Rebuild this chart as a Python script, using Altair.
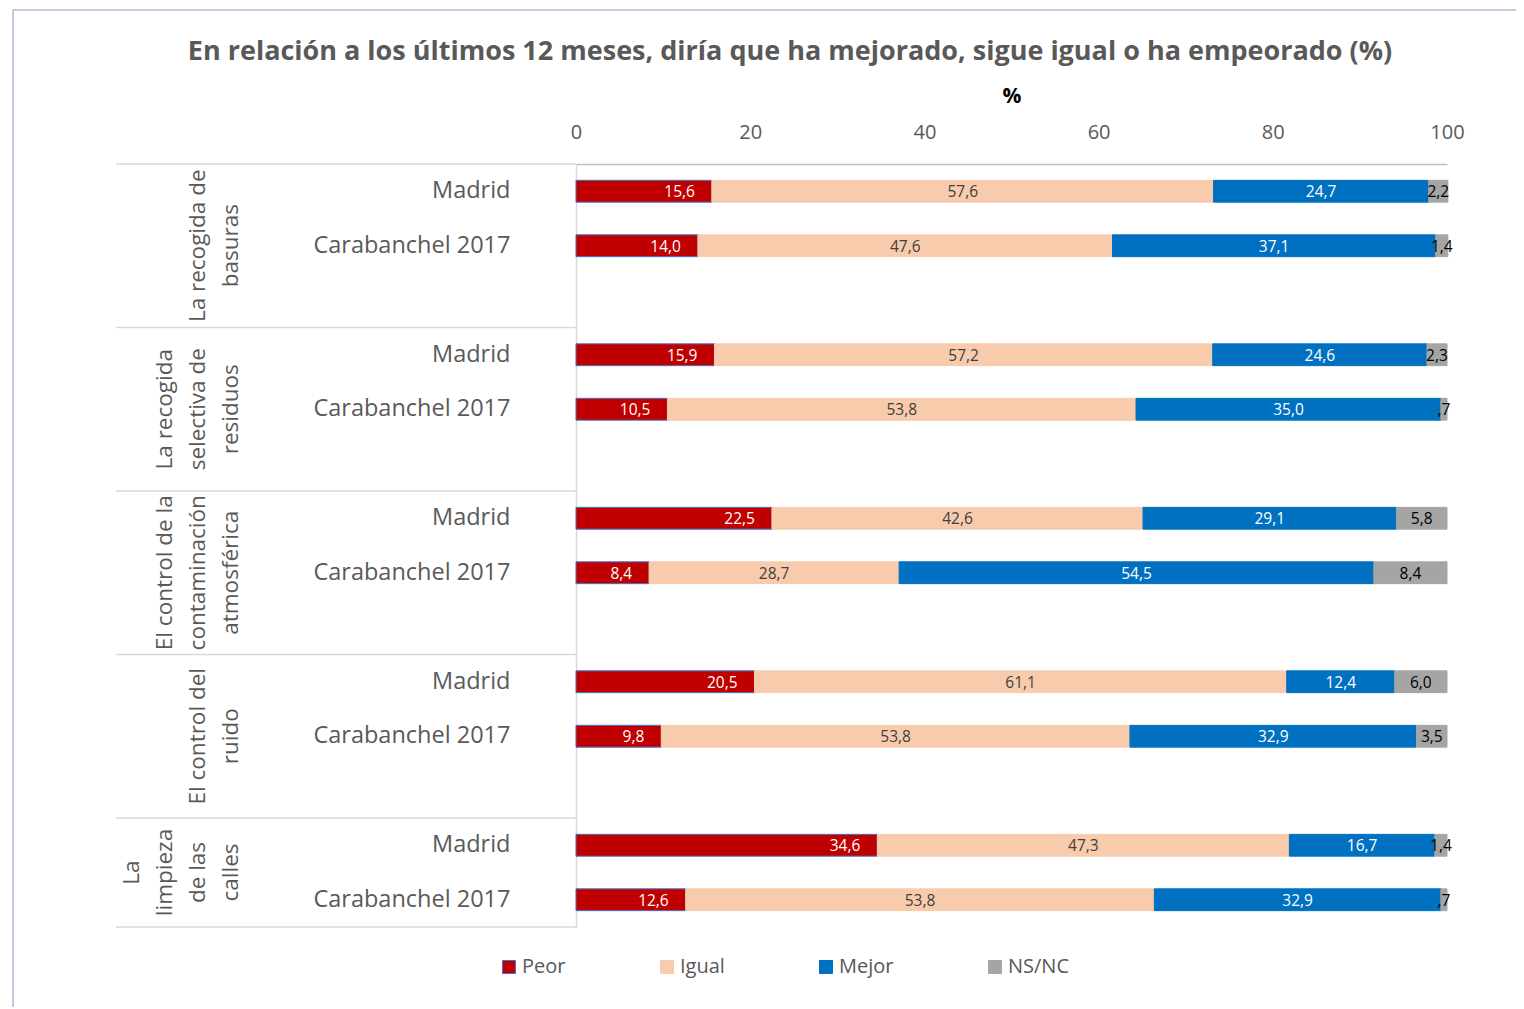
import altair as alt
import pandas as pd

# ---------------- data ----------------
title_text = "En relación a los últimos 12 meses, diría que ha mejorado, sigue igual o ha empeorado  (%)"
group_lines = [
    ["La recogida de", "basuras"],
    ["La recogida", "selectiva de", "residuos"],
    ["El control de la", "contaminación", "atmosférica"],
    ["El control del", "ruido"],
    ["La", "limpieza", "de las", "calles"],
]
areas = ["Madrid", "Carabanchel 2017"]
answers = ["Peor", "Igual", "Mejor", "NS/NC"]
colors = ["#C00000", "#F8CBAD", "#0070C0", "#A5A5A5"]
strokes = ["#4472C4", "#F8CBAD", "#0070C0", "#A5A5A5"]
text_colors = ["white", "#404040", "white", "black"]

# rows: (group1 Madrid, group1 Carabanchel, group2 Madrid, ...)
peor = [15.6, 14.0, 15.9, 10.5, 22.5, 8.4, 20.5, 9.8, 34.6, 12.6]
igual = [57.6, 47.6, 57.2, 53.8, 42.6, 28.7, 61.1, 53.8, 47.3, 53.8]
mejor = [24.7, 37.1, 24.6, 35.0, 29.1, 54.5, 12.4, 32.9, 16.7, 32.9]
nsnc = [2.2, 1.4, 2.3, 0.7, 5.8, 8.4, 6.0, 3.5, 1.4, 0.7]
x_ticks = [0, 20, 40, 60, 80, 100]

# ---------------- tables ----------------
n_groups = len(group_lines)
domain = []
for g in range(n_groups):
    for a in areas:
        domain.append(f"{g + 1}|{a}")
    if g < n_groups - 1:
        domain.append(f"{g + 1}|")


def fmt(v):
    s = f"{v:.1f}".replace(".", ",")
    if s.startswith("0,"):
        s = s[1:]
    return s


series = [peor, igual, mejor, nsnc]
rows = []
for i in range(len(peor)):
    g = i // 2
    key = f"{g + 1}|{areas[i % 2]}"
    for k, ans in enumerate(answers):
        v = series[k][i]
        rows.append({"key": key, "answer": ans, "value": v, "ord": k,
                     "lab": fmt(v), "tc": text_colors[k]})
df = pd.DataFrame(rows)

df_groups = pd.DataFrame({
    "key": [f"{g + 1}|{areas[1]}" for g in range(n_groups)],
    "txt": ["\n".join(l) for l in group_lines],
    "nl": [len(l) for l in group_lines],
    "gi": list(range(n_groups)),
})
df_sep = pd.DataFrame({"key": [f"{g + 1}|{areas[0]}" for g in range(n_groups)]})
df_sep_bottom = pd.DataFrame({"key": [f"{n_groups}|{areas[1]}"]})
df_one = pd.DataFrame({"a": [0]})

# ---------------- chart ----------------
FONT = "Open Sans"
GRAY = "#595959"
W, H = 871, 763
step = H / len(domain)
LINE_H = 33

ysc = alt.Scale(domain=domain, paddingInner=0.6, paddingOuter=0.3)
yaxis = alt.Axis(title=None, labelExpr="split(datum.label,'|')[1]", labelFontSize=23.5,
                 labelColor=GRAY, labelFont=FONT, labelPadding=66, labelLimit=400,
                 ticks=False, tickSize=0, domainColor="#D9D9D9", domainWidth=1.5)
yenc = alt.Y("key:N", scale=ysc, axis=yaxis, sort=domain)

xsc = alt.Scale(domain=[0, 100], nice=False)
xaxis = alt.Axis(orient="top", values=x_ticks, title="%", titleFontWeight="bold",
                 titleColor="black", titleFontSize=21, titleFont=FONT, labelFontSize=20,
                 labelColor=GRAY, labelFont=FONT, labelFlush=False, ticks=False, tickSize=0,
                 grid=False, domainColor="#BFBFBF", domainWidth=1.5, labelPadding=22,
                 titlePadding=16)

legend = alt.Legend(title=None, orient="none", legendX=-77, legendY=793, direction="horizontal",
                    columns=4, columnPadding=91, symbolType="square", symbolSize=169,
                    labelFontSize=20, labelColor=GRAY, labelFont=FONT, symbolStrokeWidth=1,
                    labelOffset=3, padding=0, symbolOpacity=1)

bars = alt.Chart(df).mark_bar(strokeWidth=1).encode(
    x=alt.X("value:Q", stack="zero", scale=xsc, axis=xaxis),
    y=yenc,
    color=alt.Color("answer:N", scale=alt.Scale(domain=answers, range=colors), legend=legend),
    stroke=alt.Stroke("answer:N", scale=alt.Scale(domain=answers, range=strokes), legend=legend),
    order=alt.Order("ord:Q"),
)

stacked = alt.Chart(df).transform_stack(
    stack="value", groupby=["key"], as_=["x0", "x1"], sort=[alt.SortField("ord")]
).transform_calculate(xm="(datum.x0 + datum.x1) / 2")

labels_mid = stacked.transform_filter("datum.ord > 0").mark_text(
    fontSize=15.5, font=FONT, baseline="middle", align="center", dy=1
).encode(
    x=alt.X("xm:Q", scale=xsc, axis=xaxis),
    y=yenc,
    text="lab:N",
    fill=alt.Fill("tc:N", scale=None),
)
labels_end = stacked.transform_filter("datum.ord == 0").mark_text(
    fontSize=15.5, font=FONT, baseline="middle", align="right", dx=-17, dy=1
).encode(
    x=alt.X("x1:Q", scale=xsc, axis=xaxis),
    y=yenc,
    text="lab:N",
    fill=alt.Fill("tc:N", scale=None),
)

gtext_style = dict(angle=270, align="center", baseline="bottom", lineHeight=LINE_H,
                   fontSize=22.5, font=FONT, color=GRAY, lineBreak="\n")
last_line_x = 243 - 576  # page x of the last line's anchor, relative to plot
gtext_layers = []
for nl in sorted(set(df_groups["nl"])):
    for is_last in (False, True):
        sub = df_groups[(df_groups["nl"] == nl) & ((df_groups["gi"] == n_groups - 1) == is_last)]
        if len(sub) == 0:
            continue
        extra = dict(dx=step / 2) if is_last else {}
        gtext_layers.append(
            alt.Chart(sub).mark_text(**gtext_style, **extra).encode(
                x=alt.value(last_line_x - (nl - 1) * LINE_H), y=yenc, text="txt:N")
        )

sep = alt.Chart(df_sep).mark_rule(color="#D9D9D9", strokeWidth=1.5, yOffset=-step / 2).encode(
    y=yenc, x=alt.value(-460), x2=alt.value(0))
sep_bottom = alt.Chart(df_sep_bottom).mark_rule(color="#D9D9D9", strokeWidth=1.5,
                                                yOffset=step / 2).encode(
    y=yenc, x=alt.value(-460), x2=alt.value(0))

border_left = alt.Chart(df_one).mark_rule(color="#AEBBD0", strokeWidth=1.5).encode(
    x=alt.value(-563), y=alt.value(-154), y2=alt.value(900))
border_top = alt.Chart(df_one).mark_rule(color="#AEBBD0", strokeWidth=1.5).encode(
    x=alt.value(-563), x2=alt.value(1000), y=alt.value(-154))

title = alt.Chart(pd.DataFrame({"t": [title_text]})).mark_text(
    fontSize=27, font=FONT, fontWeight="bold", color=GRAY, align="center", baseline="middle"
).encode(x=alt.value(214), y=alt.value(-112), text="t:N")

chart = alt.layer(
    border_left, border_top, sep, sep_bottom, bars, labels_mid, labels_end, *gtext_layers, title
).properties(
    width=W, height=H,
    autosize=alt.AutoSizeParams(type="none"),
    padding={"left": 568, "top": 156, "right": 69, "bottom": 80},
).configure_view(stroke="transparent")

chart.save("out.html", embed_options={"renderer": "svg", "actions": False})
